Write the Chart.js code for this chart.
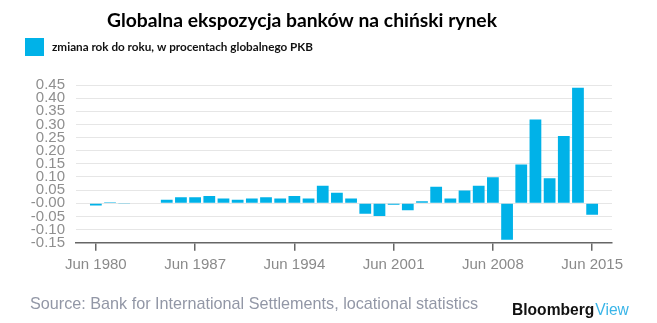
<!DOCTYPE html>
<html>
<head>
<meta charset="utf-8">
<script src="https://cdn.jsdelivr.net/npm/chart.js@4/dist/chart.umd.min.js"></script>
<style>
html,body{margin:0;padding:0;background:#fff;}
#wrap{position:relative;width:657px;height:323px;}
</style>
</head>
<body>
<div id="wrap"><canvas id="c" width="657" height="323"></canvas></div>
<script>
const titleText = 'Globalna ekspozycja banków na chiński rynek';
const seriesLabel = 'zmiana rok do roku, w procentach globalnego PKB';
const sourceText = 'Source: Bank for International Settlements, locational statistics';
const brandMain = 'Bloomberg';
const brandSub = 'View';

const years = [1980,1981,1982,1983,1984,1985,1986,1987,1988,1989,1990,1991,1992,1993,1994,1995,1996,1997,1998,1999,2000,2001,2002,2003,2004,2005,2006,2007,2008,2009,2010,2011,2012,2013,2014,2015];
const values = [-0.008,0.004,-0.003,0.0,-0.002,0.013,0.023,0.023,0.028,0.018,0.013,0.018,0.023,0.018,0.028,0.018,0.067,0.040,0.018,-0.040,-0.048,-0.006,-0.027,0.008,0.063,0.018,0.049,0.067,0.099,-0.139,0.148,0.319,0.095,0.256,0.440,-0.044];
const xTickYears = [1980,1987,1994,2001,2008,2015];
const yTicks = [-0.15,-0.10,-0.05,0.00,0.05,0.10,0.15,0.20,0.25,0.30,0.35,0.40,0.45];

const barColor = '#00b2e8';

const decor = {
  id: 'decor',
  afterDraw(chart) {
    const ctx = chart.ctx;
    ctx.save();
    ctx.textAlign = 'left';
    ctx.textBaseline = 'middle';
    // title
    ctx.fillStyle = '#000';
    ctx.font = 'bold 19.3px Lato, "Open Sans", sans-serif';
    ctx.fillText(titleText, 107, 21);
    // legend
    const ds = chart.data.datasets[0];
    ctx.fillStyle = ds.backgroundColor;
    ctx.fillRect(25, 38, 19, 18);
    ctx.fillStyle = '#111';
    ctx.font = 'bold 11.7px Lato, "Open Sans", sans-serif';
    ctx.fillText(ds.label, 52, 47);
    // source
    ctx.fillStyle = '#9297a6';
    ctx.font = '16.2px "Liberation Sans", Arial, sans-serif';
    ctx.fillText(sourceText, 30, 305);
    // brand
    ctx.font = 'bold 15.6px "Liberation Sans", Arial, sans-serif';
    ctx.fillStyle = '#111';
    ctx.fillText(brandMain, 512, 311);
    const w = ctx.measureText(brandMain).width;
    ctx.font = '15.6px "Liberation Sans", Arial, sans-serif';
    ctx.fillStyle = '#3ab5e8';
    ctx.fillText(brandSub, 512 + w + 1, 311);
    ctx.restore();
  }
};

new Chart(document.getElementById('c'), {
  type: 'bar',
  data: {
    labels: years,
    datasets: [{
      label: seriesLabel,
      data: years.map((y, i) => ({x: y, y: values[i]})),
      backgroundColor: barColor,
      borderWidth: 0,
      categoryPercentage: 1,
      barPercentage: 0.83
    }]
  },
  options: {
    responsive: false,
    animation: false,
    layout: {padding: {top: 85, left: 0, right: 45, bottom: 0}},
    plugins: {legend: {display: false}, title: {display: false}, tooltip: {enabled: false}},
    scales: {
      x: {
        type: 'linear',
        offset: false,
        min: 1978.6,
        max: 2016.4,
        afterBuildTicks: s => { s.ticks = xTickYears.map(v => ({value: v})); },
        afterFit: s => { s.height = 80.3; },
        ticks: {
          autoSkip: false,
          maxRotation: 0,
          padding: 5,
          color: '#8a8a8a',
          font: {family: '"Liberation Sans", Arial, sans-serif', size: 15},
          callback: v => 'Jun ' + v
        },
        grid: {offset: false, drawOnChartArea: false, drawTicks: true, tickLength: 8, color: '#666', lineWidth: 1.5},
        border: {display: true, color: '#666', width: 1.5}
      },
      y: {
        min: -0.15,
        max: 0.45,
        afterBuildTicks: s => { s.ticks = yTicks.map(v => ({value: v})); },
        afterFit: s => { s.width = 76; },
        ticks: {
          autoSkip: false,
          padding: 11,
          color: '#8f8f8f',
          font: {family: '"Liberation Sans", Arial, sans-serif', size: 15, lineHeight: 1},
          callback: v => Math.abs(v) < 1e-9 ? '-0.00' : v.toFixed(2)
        },
        grid: {drawTicks: false, color: '#e6e6e6', lineWidth: 1},
        border: {display: false}
      }
    }
  },
  plugins: [decor]
});
</script>
</body>
</html>
